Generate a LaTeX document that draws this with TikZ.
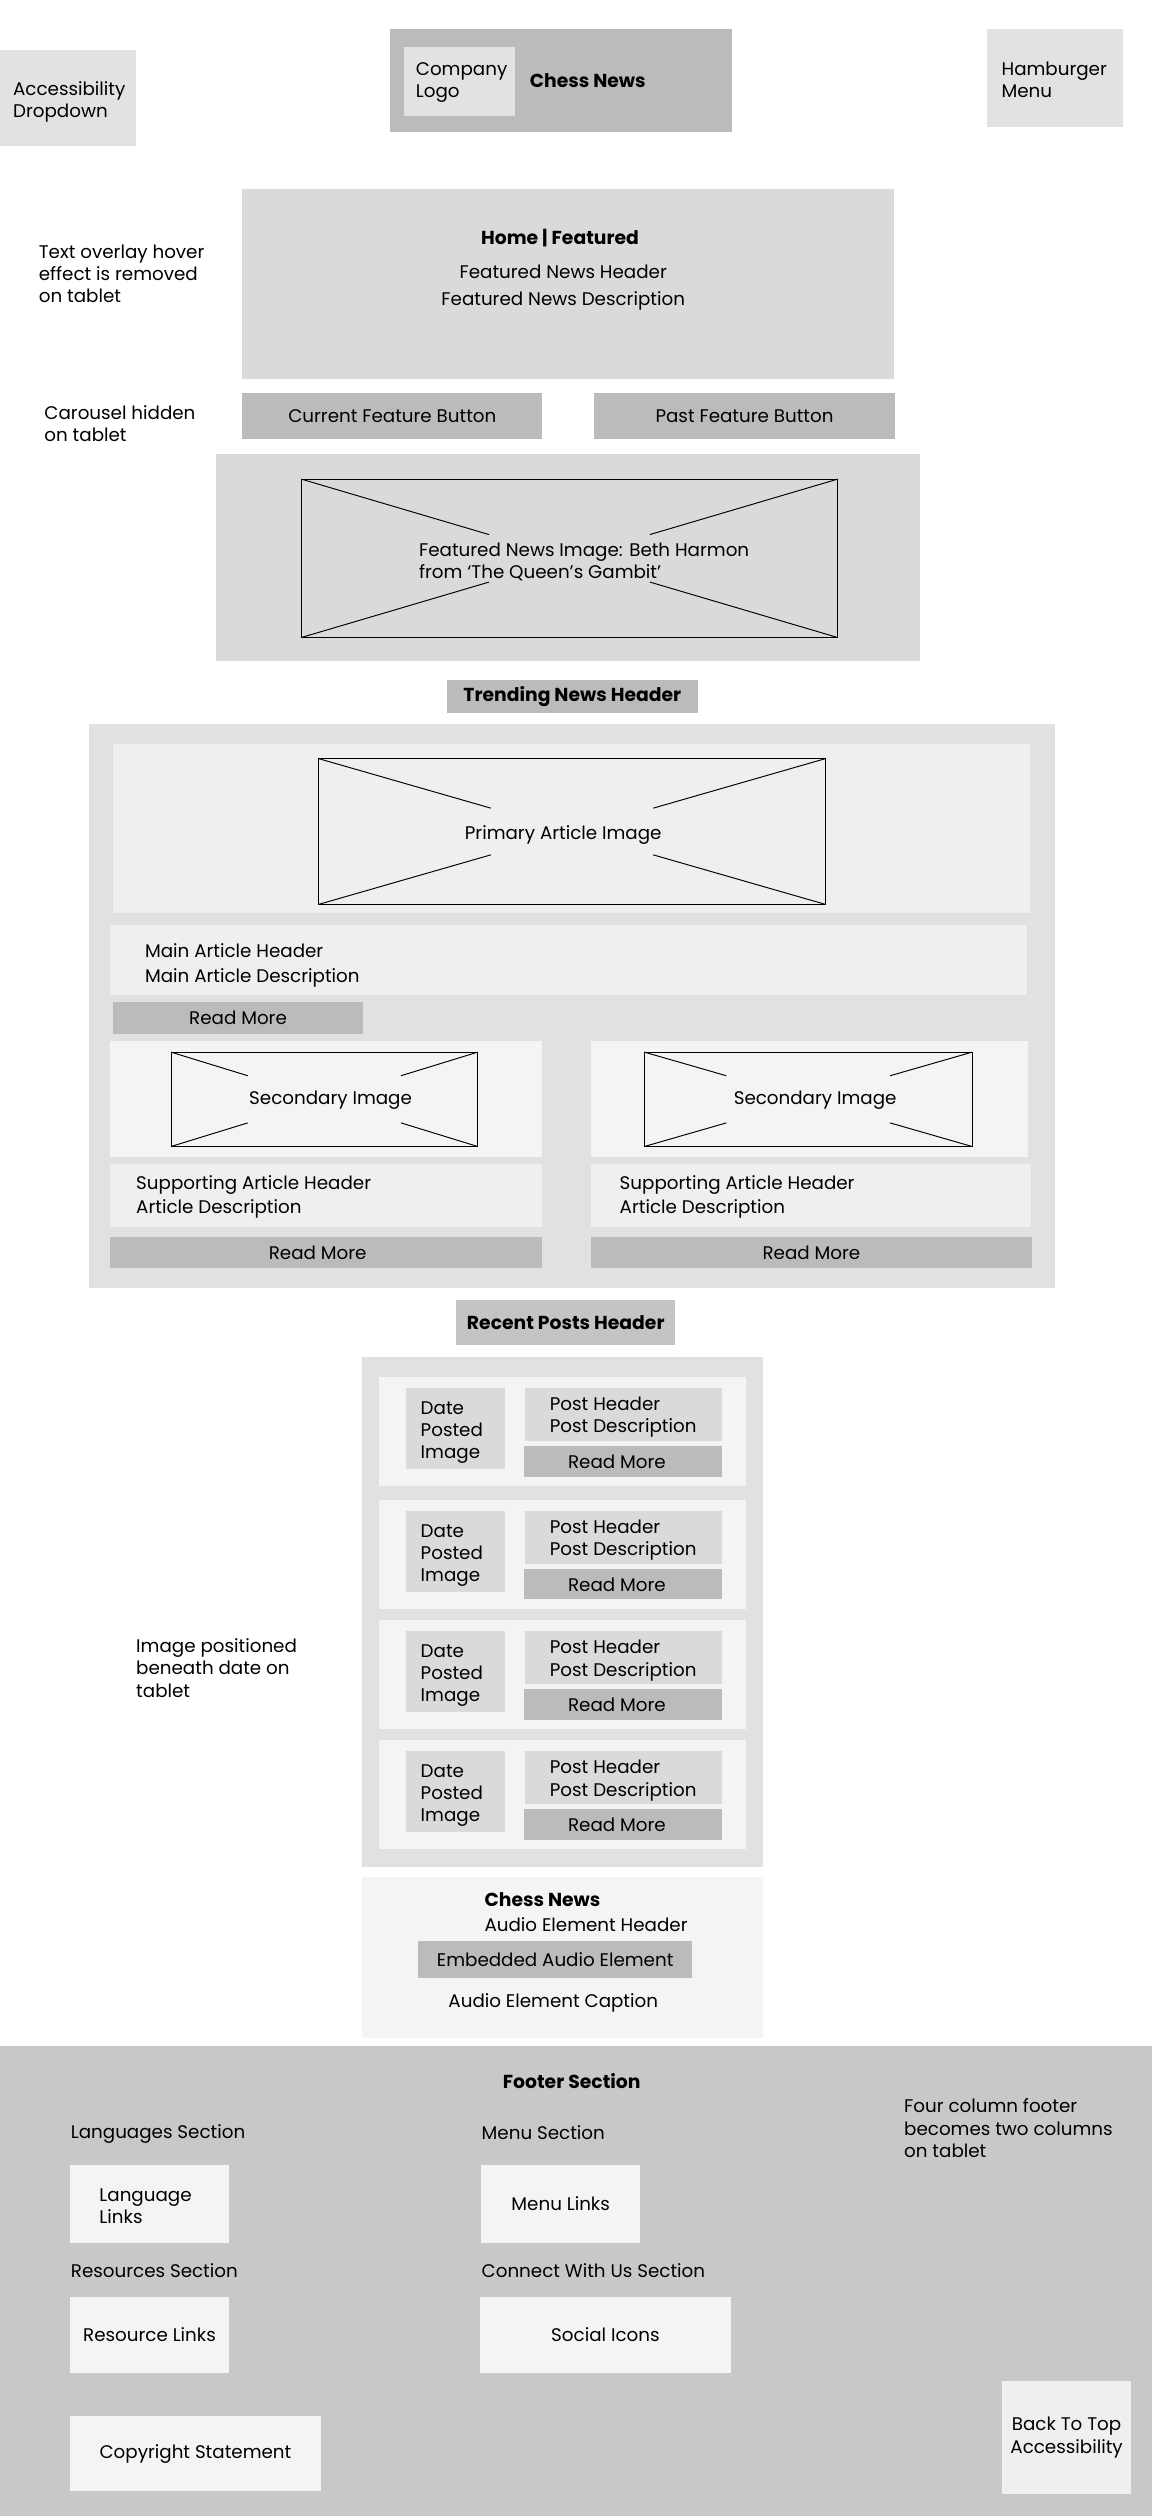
\documentclass[tikz,border=0pt]{standalone}
\usepackage{fontspec}
\setmainfont{Poppins}
\usepackage{tikz}
\usetikzlibrary{calc}

\definecolor{grA}{HTML}{BBBBBB}
\definecolor{grB}{HTML}{C4C4C4}
\definecolor{grC}{HTML}{C8C8C8}
\definecolor{grD}{HTML}{DADADA}
\definecolor{grE}{HTML}{E1E1E1}
\definecolor{grF}{HTML}{E2E2E2}
\definecolor{grG}{HTML}{F0EFEF}
\definecolor{grH}{HTML}{F4F4F4}

\begin{document}
\begin{tikzpicture}[x=1pt,y=-1pt,
  box/.style={inner sep=0pt,outer sep=0pt,anchor=north west,align=center,font=\fontsize{11.4}{13.8}\selectfont},
  lbl/.style={inner sep=0pt,anchor=west,align=left,font=\fontsize{11.4}{13.8}\selectfont},
  mid/.style={inner sep=0pt,align=center,font=\fontsize{11.4}{13.8}\selectfont},
  bold/.style={font=\fontsize{11.7}{13.8}\selectfont\bfseries},
  img/.style={box,draw=black,line width=0.6pt}]

\useasboundingbox (0,0) rectangle (718,1568);

% header
\node[box,fill=grF,minimum width=85pt,minimum height=60pt] (acc) at (0,31) {};
\node[lbl] (acctxt) at (8,63.5) {Accessibility\\Dropdown};
\node[box,fill=grA,minimum width=213pt,minimum height=64pt] (hdr) at (243,18) {};
\node[box,fill=grF,minimum width=69pt,minimum height=43pt] (logo) at (252,29) {};
\node[lbl] (logotxt) at (259,51.5) {Company\\Logo};
\node[lbl,bold] (title) at (330,50.5) {Chess News};
\node[box,fill=grF,minimum width=85pt,minimum height=61pt] (ham) at (615,18) {};
\node[lbl] (hamtxt) at (624,50) {Hamburger\\Menu};

% featured
\node[lbl] (note1) at (24,170.5) {Text overlay hover\\effect is removed\\on tablet};
\node[box,fill=grD,minimum width=406pt,minimum height=118pt] (feat) at (151,118) {};
\node[mid,bold] (feattop) at (349,148.5) {Home | Featured};
\node[mid] (feathd) at (351,169.4) {Featured News Header};
\node[mid] (featds) at (351,187.5) {Featured News Description};

\node[lbl] (note2) at (27.5,264) {Carousel hidden\\on tablet};
\node[box,fill=grA,minimum width=187pt,minimum height=28.5pt] (btn1) at (151,245) {Current Feature Button};
\node[box,fill=grA,minimum width=188pt,minimum height=28.5pt] (btn2) at (370,245) {Past Feature Button};

\node[box,fill=grD,minimum width=438.8pt,minimum height=129pt] (car) at (134.6,283) {};
\node[img,minimum width=334.2pt,minimum height=98.7pt] (fimg) at (187.8,298.6) {};
\node[lbl] (fimgtxt) at (261,350.2) {Featured News Image: Beth Harmon\\from ‘The Queen’s Gambit’};

% trending
\node[box,bold,fill=grA,minimum width=156.6pt,minimum height=21.1pt] (trh) at (278.4,423.5) {Trending News Header};
\node[box,fill=grE,minimum width=601.8pt,minimum height=351.4pt] (trc) at (55.4,451.3) {};
\node[box,fill=grG,minimum width=571.5pt,minimum height=105.5pt] (ppan) at (70.5,463.6) {};
\node[img,minimum width=316.4pt,minimum height=91pt] (pimg) at (198.3,472.7) {};
\node[mid] (pimgtxt) at (351,520.5) {Primary Article Image};
\node[box,fill=grG,minimum width=571.5pt,minimum height=43.4pt] (mtx) at (68.7,576.5) {};
\node[lbl] (mtxtxt) at (90.2,601.5) {Main Article Header\\[1.5pt]Main Article Description};
\node[box,fill=grA,minimum width=155.7pt,minimum height=19.8pt] (rm0) at (70.5,624.5) {Read More};

\node[box,fill=grH,minimum width=269.3pt,minimum height=72.2pt] (span1) at (68.7,648.7) {};
\node[box,fill=grH,minimum width=272.5pt,minimum height=72.2pt] (span2) at (368.2,648.7) {};
\node[img,minimum width=191.1pt,minimum height=58.8pt] (simg1) at (106.6,655.7) {};
\node[img,minimum width=204.2pt,minimum height=58.8pt] (simg2) at (401.6,655.7) {};
\node[mid] (simg1txt) at (206,685.5) {Secondary Image};
\node[mid] (simg2txt) at (508,685.5) {Secondary Image};
\node[box,fill=grG,minimum width=269.3pt,minimum height=39.2pt] (stx1) at (68.7,725.3) {};
\node[box,fill=grG,minimum width=274.4pt,minimum height=39.2pt] (stx2) at (368.2,725.3) {};
\node[lbl] (stx1txt) at (84.7,746) {Supporting Article Header\\[1pt]Article Description};
\node[lbl] (stx2txt) at (386,746) {Supporting Article Header\\[1pt]Article Description};
\node[box,fill=grA,minimum width=269.3pt,minimum height=19.2pt] (rm1) at (68.7,771) {};
\node[mid] (rm1txt) at (198,780.8) {Read More};
\node[box,fill=grA,minimum width=275pt,minimum height=19.2pt] (rm2) at (368.2,771) {Read More};

% crossed image placeholders
\foreach \im/\f in {fimg/0.35,pimg/0.34,simg1/0.25,simg2/0.25}
  \foreach \a/\b in {north west/south east,south east/north west,north east/south west,south west/north east}
    \draw[line width=0.6pt] (\im.\a) -- ($(\im.\a)!\f!(\im.\b)$);

% recent posts
\node[box,bold,fill=grB,minimum width=136.4pt,minimum height=28.1pt] (rph) at (284.4,810.2) {Recent Posts Header};
\node[box,fill=grE,minimum width=250pt,minimum height=317.8pt] (rpc) at (225.8,845.7) {};
\foreach \t [count=\i] in {858.2,934.8,1009.7,1084.5} {
  \node[box,fill=grH,minimum width=228.5pt,minimum height=68pt] (card\i) at (236.3,\t) {};
  \node[box,fill=grD,minimum width=61.4pt,minimum height=50.6pt] (date\i) at (253.2,\t+6.9) {};
  \node[lbl] (date\i txt) at (262,\t+34.5) {Date\\Posted\\Image};
  \node[box,fill=grD,minimum width=122.8pt,minimum height=33pt] (post\i) at (327.4,\t+6.9) {};
  \node[lbl] (post\i txt) at (342.5,\t+25.2) {Post Header\\Post Description};
  \node[box,fill=grA,minimum width=123.7pt,minimum height=19pt] (rmp\i) at (326.5,\t+43) {};
  \node[mid] (rmp\i txt) at (384.5,\t+52.7) {Read More};
}
\node[lbl] (note3) at (84.7,1039.5) {Image positioned\\beneath date on\\tablet};

% audio
\node[box,fill=grH,minimum width=250pt,minimum height=100.3pt] (aud) at (225.8,1169.7) {};
\node[lbl,bold] (audttl) at (301.8,1184) {Chess News};
\node[lbl] (audhd) at (301.8,1199.5) {Audio Element Header};
\node[box,fill=grA,minimum width=170.8pt,minimum height=22.7pt] (emb) at (260.6,1209.7) {Embedded Audio Element};
\node[mid] (audcap) at (344.8,1248) {Audio Element Caption};

% footer
\node[box,fill=grC,minimum width=718pt,minimum height=293pt] (foot) at (0,1275) {};
\node[mid,bold] (foottl) at (356.3,1297) {Footer Section};
\node[lbl] (langsec) at (44,1330) {Languages Section};
\node[lbl] (menusec) at (300,1329.2) {Menu Section};
\node[lbl] (note4) at (563.3,1326.3) {Four column footer\\becomes two columns\\on tablet};
\node[box,fill=grH,minimum width=99.4pt,minimum height=48.2pt] (lnk) at (43.5,1349.5) {};
\node[lbl] (lnktxt) at (61.8,1375) {Language\\Links};
\node[box,fill=grH,minimum width=98.9pt,minimum height=48.2pt] (mnu) at (300,1349.5) {Menu Links};
\node[lbl] (ressec) at (44,1415.2) {Resources Section};
\node[lbl] (consec) at (300,1415.2) {Connect With Us Section};
\node[box,fill=grH,minimum width=99.4pt,minimum height=47.2pt] (res) at (43.5,1431.6) {Resource Links};
\node[box,fill=grH,minimum width=156.6pt,minimum height=47.2pt] (soc) at (299,1431.6) {Social Icons};
\node[box,fill=grH,minimum width=156.6pt,minimum height=46.5pt] (cpy) at (43.5,1505.8) {Copyright Statement};
\node[box,fill=grG,minimum width=80.2pt,minimum height=70.2pt] (btt) at (624.6,1484) {Back To Top\\Accessibility};

\end{tikzpicture}
\end{document}
